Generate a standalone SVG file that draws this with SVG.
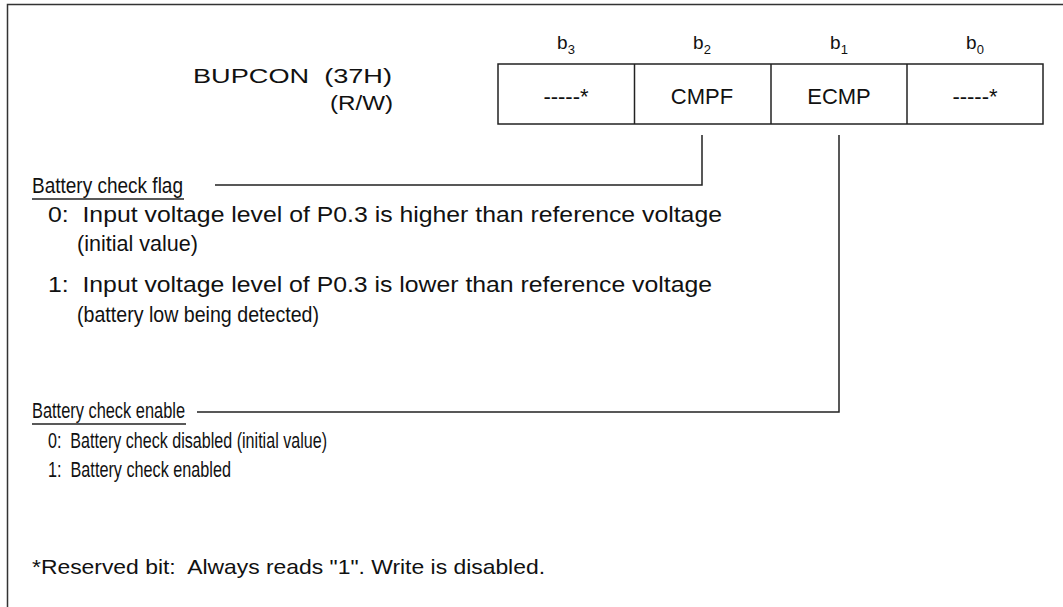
<svg xmlns="http://www.w3.org/2000/svg" width="1063" height="607" viewBox="0 0 1063 607" xml:space="preserve">
<style>
text{font-family:"Liberation Sans",Arial,sans-serif;fill:#111;white-space:pre}
.t{font-size:20.5px}
.d{font-size:22.5px}
.n{font-size:21px}
.c{font-size:22px;text-anchor:middle}
.h{font-size:19px;text-anchor:middle}
.ln{stroke:#222;stroke-width:1.5;fill:none}
.sub{font-size:13px}
</style>
<rect x="7.5" y="4.5" width="1100" height="650" fill="#fff" stroke="#333" stroke-width="1.5"/>
<g id="register">
<text class="t" x="193" y="83" textLength="199" lengthAdjust="spacingAndGlyphs">BUPCON  (37H)</text>
<text class="t" x="330" y="110" textLength="63" lengthAdjust="spacingAndGlyphs">(R/W)</text>
<text class="h" x="566" y="49">b<tspan class="sub" dy="5">3</tspan></text>
<text class="h" x="702" y="49">b<tspan class="sub" dy="5">2</tspan></text>
<text class="h" x="839" y="49">b<tspan class="sub" dy="5">1</tspan></text>
<text class="h" x="975" y="49">b<tspan class="sub" dy="5">0</tspan></text>
<rect class="ln" x="498" y="64" width="545" height="60"/>
<line class="ln" x1="634.5" y1="64" x2="634.5" y2="124"/>
<line class="ln" x1="771" y1="64" x2="771" y2="124"/>
<line class="ln" x1="907" y1="64" x2="907" y2="124"/>
<text class="c" x="566" y="104">-----*</text>
<text class="c" x="702" y="104">CMPF</text>
<text class="c" x="839" y="104">ECMP</text>
<text class="c" x="975" y="104">-----*</text>
</g>
<g id="flag">
<text class="d" x="32" y="193" textLength="151" lengthAdjust="spacingAndGlyphs">Battery check flag</text>
<line class="ln" x1="32" y1="199" x2="184" y2="199"/>
<text class="d" x="48" y="222" textLength="674" lengthAdjust="spacingAndGlyphs">0:  Input voltage level of P0.3 is higher than reference voltage</text>
<text class="d" x="77" y="251" textLength="121" lengthAdjust="spacingAndGlyphs">(initial value)</text>
<text class="d" x="48" y="292" textLength="664" lengthAdjust="spacingAndGlyphs">1:  Input voltage level of P0.3 is lower than reference voltage</text>
<text class="d" x="77" y="322" textLength="242" lengthAdjust="spacingAndGlyphs">(battery low being detected)</text>
</g>
<g id="enable">
<text class="d" x="32" y="418" textLength="153" lengthAdjust="spacingAndGlyphs">Battery check enable</text>
<line class="ln" x1="32" y1="424" x2="186" y2="424"/>
<text class="d" x="48" y="448" textLength="279" lengthAdjust="spacingAndGlyphs">0:  Battery check disabled (initial value)</text>
<text class="d" x="48" y="477" textLength="183" lengthAdjust="spacingAndGlyphs">1:  Battery check enabled</text>
</g>
<g id="note">
<text class="n" x="32" y="574" textLength="513" lengthAdjust="spacingAndGlyphs">*Reserved bit:  Always reads "1". Write is disabled.</text>
</g>
<g id="connectors">
<polyline class="ln" points="702,135 702,185 215,185"/>
<polyline class="ln" points="839,135 839,412 197,412"/>
</g>
</svg>
